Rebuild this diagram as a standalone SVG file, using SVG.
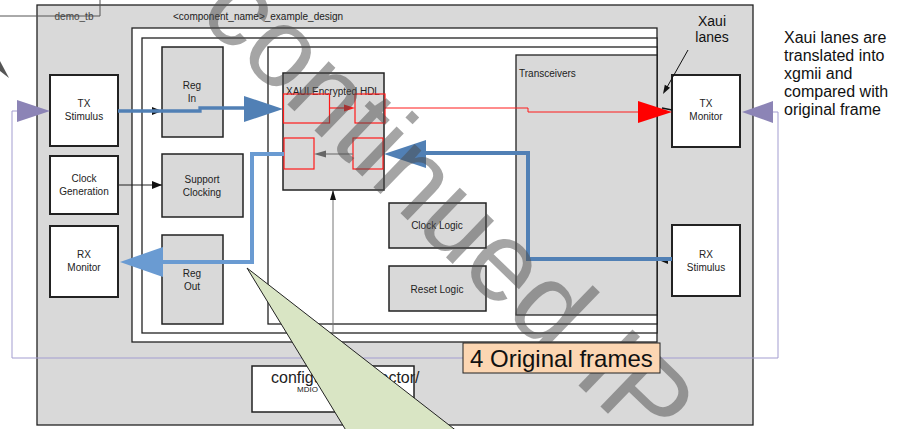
<svg xmlns="http://www.w3.org/2000/svg" width="900" height="429" viewBox="0 0 900 429">
<style>
text{font-family:"Liberation Sans",Arial,sans-serif;fill:#222}
.grey{fill:#d9d9d9}
.white{fill:#fff}
.frame{stroke:#222;stroke-width:1.3}
.node{stroke:#222;stroke-width:2}
.blk{stroke:#222;stroke-width:1.5}
.lbl{font-size:10px;text-anchor:middle}
.red{fill:none;stroke:#ff1a1a;stroke-width:1.2}
</style>
<defs>
<marker id="ab" viewBox="0 0 10 8" refX="10" refY="4" markerWidth="10" markerHeight="8" markerUnits="userSpaceOnUse" orient="auto"><path d="M0,0 L10,4 L0,8 Z" fill="#111"/></marker>
</defs>
<rect x="0" y="0" width="900" height="429" fill="#fff"/>
<g id="demo_tb">
<rect x="37" y="5" width="716" height="420" class="grey frame"/>
<path d="M0,16 H100 V0" fill="none" stroke="#555" stroke-width="1"/>
<text x="74" y="20" class="lbl" style="fill:#444">demo_tb</text>
</g>
<g id="example_design">
<text x="173" y="20" font-size="10">&lt;component_name&gt;_example_design</text>
<rect x="132" y="28" width="525" height="314" class="white frame"/>
<rect x="142" y="38" width="515" height="295" class="white frame"/>
<rect x="268" y="47" width="389" height="277" class="white frame"/>
</g>
<g id="transceivers">
<rect x="516" y="55" width="141" height="260" class="grey frame"/>
<text x="519" y="77" font-size="10">Transceivers</text>
</g>
<g id="tx_stimulus">
<rect x="50" y="75" width="68" height="71" class="white node"/>
<text x="84" y="107" class="lbl">TX</text><text x="84" y="120" class="lbl">Stimulus</text>
</g>
<g id="clock_generation">
<rect x="50" y="156" width="68" height="58" class="white node"/>
<text x="84" y="182" class="lbl">Clock</text><text x="84" y="195" class="lbl">Generation</text>
</g>
<g id="rx_monitor">
<rect x="50" y="226" width="68" height="71" class="white node"/>
<text x="84" y="258" class="lbl">RX</text><text x="84" y="271" class="lbl">Monitor</text>
</g>
<g id="reg_in">
<rect x="162" y="47" width="61" height="90" class="grey blk"/>
<text x="192" y="89" class="lbl">Reg</text><text x="192" y="102" class="lbl">In</text>
</g>
<g id="support_clocking">
<rect x="162" y="154" width="81" height="63" class="grey blk"/>
<text x="202" y="183" class="lbl">Support</text><text x="202" y="196" class="lbl">Clocking</text>
</g>
<g id="reg_out">
<rect x="162" y="235" width="61" height="89" class="grey blk"/>
<text x="192" y="277" class="lbl">Reg</text><text x="192" y="290" class="lbl">Out</text>
</g>
<g id="xaui_hdl">
<rect x="283" y="73" width="101" height="117" class="grey blk"/>
<text x="286" y="95" font-size="10">XAUI Encrypted HDL</text>
<rect x="283.5" y="94" width="46" height="29" class="red"/>
<rect x="355" y="94" width="30" height="29" class="red"/>
<rect x="284" y="138" width="30" height="31" class="red"/>
<rect x="353" y="138" width="30" height="31" class="red"/>
</g>
<g id="clock_logic">
<rect x="389" y="203" width="97" height="45" class="grey blk"/>
<text x="437" y="229" class="lbl">Clock Logic</text>
</g>
<g id="reset_logic">
<rect x="389" y="266" width="97" height="45" class="grey blk"/>
<text x="437" y="293" class="lbl">Reset Logic</text>
</g>
<g id="tx_monitor">
<rect x="672" y="75" width="68" height="72" class="white node"/>
<text x="706" y="107" class="lbl">TX</text><text x="706" y="120" class="lbl">Monitor</text>
</g>
<g id="rx_stimulus">
<rect x="672" y="225" width="68" height="71" class="white node"/>
<text x="706" y="258" class="lbl">RX</text><text x="706" y="271" class="lbl">Stimulus</text>
</g>
<g id="connectors">
<path d="M773,112 H778 V358 H12 V111 H20" fill="none" stroke="#a39dd0" stroke-width="1"/>
<polygon points="773,101 742,112 773,123" fill="#8c84b6"/>
<polygon points="17,100 50,111 17,122" fill="#8c84b6"/>
<path d="M118,185 H162" stroke="#222" stroke-width="1" marker-end="url(#ab)"/>
<path d="M118,111 H162" stroke="#222" stroke-width="1" marker-end="url(#ab)"/>
<path d="M333,333 V191" stroke="#777" stroke-width="1"/>
<polygon points="330,200 333,190 336,200" fill="#111"/>
<path d="M118,111 H200 V108 H250" fill="none" stroke="#5180b5" stroke-width="3.3"/>
<polygon points="244,96 283,109 244,122" fill="#5180b5"/>
<path d="M329,108 H346" stroke="#ff1a1a" stroke-width="1.2"/>
<polygon points="344,104.5 355,108 344,111.5" fill="#ff1a1a"/>
<path d="M385,108 H528 V112 H642" fill="none" stroke="#ff1a1a" stroke-width="1"/>
<polygon points="638,101 672,112 638,123" fill="#ff0000"/>
<path d="M662,108 L672,110" stroke="#111" stroke-width="1.5"/>
<path d="M688,50 L666,89" stroke="#111" stroke-width="1"/>
<polygon points="663,94 670,87.7 664.8,84.7" fill="#111"/>
<path d="M353,154 H324" stroke="#777" stroke-width="1.2"/>
<polygon points="326,150.5 314,154 326,157.5" fill="#666"/>
<polygon points="668,257 661,261 668,264" fill="#111"/>
<path d="M672,259 H528 V153 H420" fill="none" stroke="#5180b5" stroke-width="4"/>
<polygon points="426,140 384,154 426,168" fill="#5180b5"/>
<path d="M284,154 H252 V262 H160" fill="none" stroke="#6a9bd2" stroke-width="4"/>
<polygon points="163,247 120,262 163,277" fill="#6a9bd2"/>
<polygon points="0,61 9,78 0,71" fill="#555"/>
</g>
<text x="712" y="26" font-size="14" text-anchor="middle" style="fill:#111">Xaui</text>
<text x="712" y="42" font-size="14" text-anchor="middle" style="fill:#111">lanes</text>
<g font-size="16" style="fill:#111">
<text x="784" y="43" style="fill:#111">Xaui lanes are</text>
<text x="784" y="61" style="fill:#111">translated into</text>
<text x="784" y="79" style="fill:#111">xgmii and</text>
<text x="784" y="97" style="fill:#111">compared with</text>
<text x="784" y="115" style="fill:#111">original frame</text>
</g>
<text transform="translate(196,16) rotate(44)" font-size="113" style="fill:#4d4d4d;opacity:0.5">continued IP</text>
<g id="config_vector">
<rect x="252" y="366" width="162" height="46" class="white blk"/>
<text x="271" y="383" font-size="16">configuration_vector/</text>
<text x="297" y="392" font-size="8">MDIO</text>
</g>
<g id="original_frames">
<rect x="463" y="343" width="197" height="30" fill="#fcd6b2" stroke="#222" stroke-width="1"/>
<text x="470" y="367" font-size="24" style="fill:#111">4 Original frames</text>
</g>
<polygon id="callout" points="247,268 347,432 458,432" fill="#d9e5c4" stroke="#222" stroke-width="1"/>
</svg>
